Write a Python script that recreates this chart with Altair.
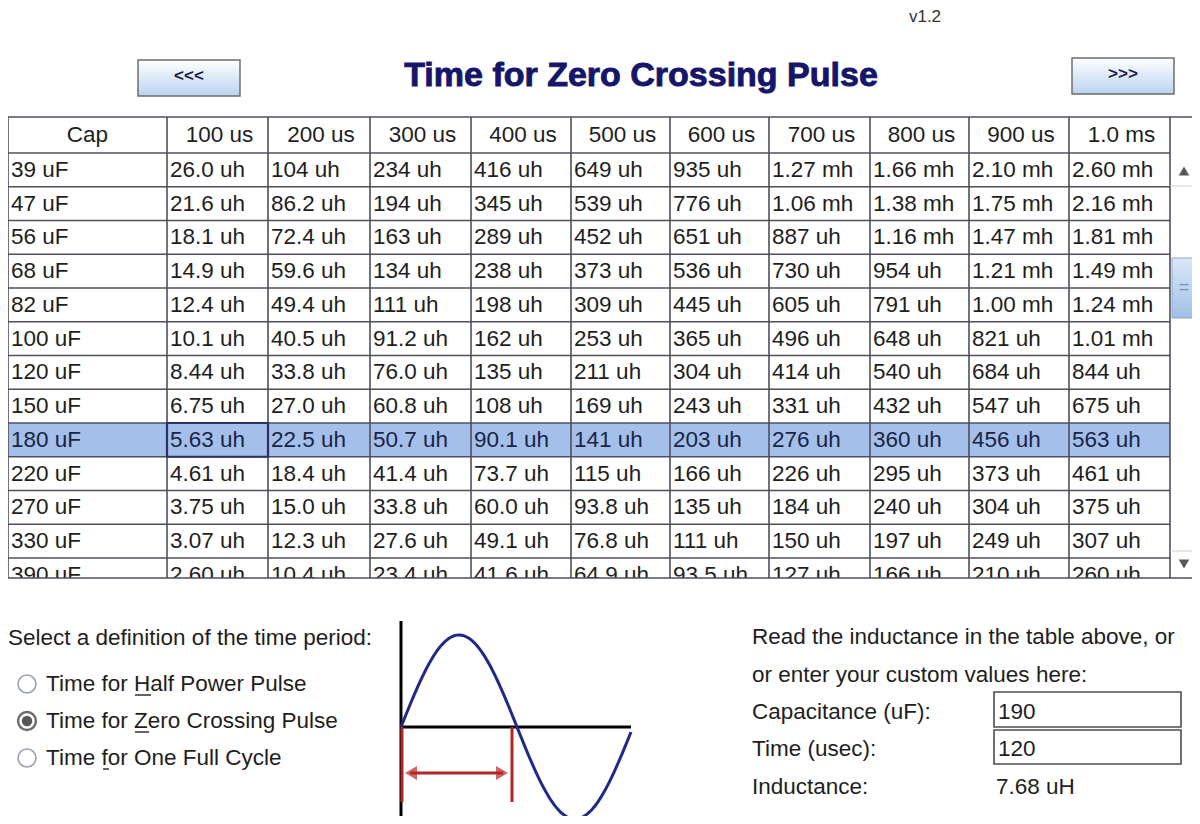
import altair as alt
import pandas as pd
import numpy as np

# ---------------- data ----------------
caps = ["39 uF", "47 uF", "56 uF", "68 uF", "82 uF", "100 uF", "120 uF",
        "150 uF", "180 uF", "220 uF", "270 uF", "330 uF", "390 uF"]
times = ["100 us", "200 us", "300 us", "400 us", "500 us",
         "600 us", "700 us", "800 us", "900 us", "1.0 ms"]
l_100us = ["26.0 uh", "21.6 uh", "18.1 uh", "14.9 uh", "12.4 uh", "10.1 uh", "8.44 uh",
           "6.75 uh", "5.63 uh", "4.61 uh", "3.75 uh", "3.07 uh", "2.60 uh"]
l_200us = ["104 uh", "86.2 uh", "72.4 uh", "59.6 uh", "49.4 uh", "40.5 uh", "33.8 uh",
           "27.0 uh", "22.5 uh", "18.4 uh", "15.0 uh", "12.3 uh", "10.4 uh"]
l_300us = ["234 uh", "194 uh", "163 uh", "134 uh", "111 uh", "91.2 uh", "76.0 uh",
           "60.8 uh", "50.7 uh", "41.4 uh", "33.8 uh", "27.6 uh", "23.4 uh"]
l_400us = ["416 uh", "345 uh", "289 uh", "238 uh", "198 uh", "162 uh", "135 uh",
           "108 uh", "90.1 uh", "73.7 uh", "60.0 uh", "49.1 uh", "41.6 uh"]
l_500us = ["649 uh", "539 uh", "452 uh", "373 uh", "309 uh", "253 uh", "211 uh",
           "169 uh", "141 uh", "115 uh", "93.8 uh", "76.8 uh", "64.9 uh"]
l_600us = ["935 uh", "776 uh", "651 uh", "536 uh", "445 uh", "365 uh", "304 uh",
           "243 uh", "203 uh", "166 uh", "135 uh", "111 uh", "93.5 uh"]
l_700us = ["1.27 mh", "1.06 mh", "887 uh", "730 uh", "605 uh", "496 uh", "414 uh",
           "331 uh", "276 uh", "226 uh", "184 uh", "150 uh", "127 uh"]
l_800us = ["1.66 mh", "1.38 mh", "1.16 mh", "954 uh", "791 uh", "648 uh", "540 uh",
           "432 uh", "360 uh", "295 uh", "240 uh", "197 uh", "166 uh"]
l_900us = ["2.10 mh", "1.75 mh", "1.47 mh", "1.21 mh", "1.00 mh", "821 uh", "684 uh",
           "547 uh", "456 uh", "373 uh", "304 uh", "249 uh", "210 uh"]
l_1ms = ["2.60 mh", "2.16 mh", "1.81 mh", "1.49 mh", "1.24 mh", "1.01 mh", "844 uh",
         "675 uh", "563 uh", "461 uh", "375 uh", "307 uh", "260 uh"]
columns = [l_100us, l_200us, l_300us, l_400us, l_500us,
           l_600us, l_700us, l_800us, l_900us, l_1ms]
selected_row = 8          # 180 uF
focused_col = 1           # first value column

title = "Time for Zero Crossing Pulse"
version = "v1.2"
radio_prompt = "Select a definition of the time period:"
radio_labels = ["Time for Half Power Pulse", "Time for Zero Crossing Pulse", "Time for One Full Cycle"]
radio_selected = 1
right_lines = ["Read the inductance in the table above, or", "or enter your custom values here:"]
field_labels = ["Capacitance (uF):", "Time (usec):", "Inductance:"]
field_values = ["190", "120", "7.68 uH"]

# ---------------- layout (pixel positions of the window) ----------------
W, H = 1184, 808
COL_EDGES = [8, 167, 268, 370, 471, 571, 670, 769, 870, 969, 1069, 1170]
SCROLL_R = 1197
HEAD_TOP, HEAD_BOT, ROW_H, TABLE_BOT = 117, 153, 33.75, 578
FONT = "Liberation Sans, Arial, Helvetica, sans-serif"
GRID = "#4c4f5c"

xs = alt.Scale(domain=[8, 8 + W], nice=False, zero=False)
ys = alt.Scale(domain=[8, 8 + H], nice=False, zero=False, reverse=True)


def X(f="x"):
    return alt.X(f"{f}:Q", scale=xs, axis=None)


def Y(f="y"):
    return alt.Y(f"{f}:Q", scale=ys, axis=None)


def rects(rows, **mark):
    return alt.Chart(pd.DataFrame(rows)).mark_rect(**mark).encode(
        x=X(), x2="x2:Q", y=Y(), y2="y2:Q")


def rules(rows, **mark):
    return alt.Chart(pd.DataFrame(rows)).mark_rule(**mark).encode(
        x=X(), x2="x2:Q", y=Y(), y2="y2:Q")


def texts(rows, **mark):
    base = dict(font=FONT, fontSize=22.5, align="left", baseline="middle", color="#1e1e1e")
    base.update(mark)
    return alt.Chart(pd.DataFrame(rows)).mark_text(**base).encode(x=X(), y=Y(), text="t:N")


def points(rows, **mark):
    return alt.Chart(pd.DataFrame(rows)).mark_point(**mark).encode(x=X(), y=Y())


def grad(top, bottom):
    return alt.LinearGradient(gradient="linear", x1=0, x2=0, y1=0, y2=1,
                              stops=[alt.GradientStop(color=top, offset=0),
                                     alt.GradientStop(color=bottom, offset=1)])


layers = []

# ---- header: version, buttons, title ----
layers.append(texts([{"x": 925, "y": 17, "t": version}], fontSize=17, align="center", color="#333333"))
layers.append(rects([{"x": 138, "x2": 240, "y": 60, "y2": 96},
                     {"x": 1072, "x2": 1174, "y": 58, "y2": 94}],
                    fill=grad("#ffffff", "#b9d3ef"), stroke="#6d6d6d", strokeWidth=1.5))
layers.append(texts([{"x": 189, "y": 76, "t": "<<<"}, {"x": 1123, "y": 74, "t": ">>>"}],
                    fontSize=17, fontWeight="bold", align="center", color="#1b1b50"))
layers.append(texts([{"x": 641, "y": 76, "t": title}], fontSize=34, fontWeight="bold",
                    align="center", color="#15156a", stroke="#15156a", strokeWidth=0.9))

# ---- table ----
n = len(caps)
row_top = [HEAD_BOT + ROW_H * i for i in range(n)]
row_mid = [t + ROW_H / 2 for t in row_top]

layers.append(rects([{"x": COL_EDGES[0], "x2": COL_EDGES[-1], "y": row_top[selected_row],
                      "y2": row_top[selected_row] + ROW_H}], fill="#a3bfea"))

head_rows = [{"x": (COL_EDGES[0] + COL_EDGES[1]) / 2, "y": (HEAD_TOP + HEAD_BOT) / 2, "t": "Cap"}]
for c, t in enumerate(times):
    head_rows.append({"x": (COL_EDGES[c + 1] + COL_EDGES[c + 2]) / 2 + 2, "y": (HEAD_TOP + HEAD_BOT) / 2, "t": t})
layers.append(texts(head_rows, align="center"))

cell_rows = []
for r in range(n):
    color = "#1a2444" if r == selected_row else "#1e1e1e"
    cell_rows.append({"x": COL_EDGES[0] + 3, "y": row_mid[r], "t": caps[r], "c": color})
    for c, col in enumerate(columns):
        cell_rows.append({"x": COL_EDGES[c + 1] + 3, "y": row_mid[r], "t": col[r], "c": color})
layers.append(alt.Chart(pd.DataFrame(cell_rows)).mark_text(
    font=FONT, fontSize=22.5, align="left", baseline="middle").encode(
    x=X(), y=Y(), text="t:N", color=alt.Color("c:N", scale=None)))

# clip partially visible last row
layers.append(rects([{"x": 4, "x2": SCROLL_R + 2, "y": TABLE_BOT, "y2": TABLE_BOT + 16}], fill="white"))

# grid
hl = [{"x": COL_EDGES[0], "x2": COL_EDGES[-1], "y": y, "y2": y}
      for y in [HEAD_BOT] + [t + ROW_H for t in row_top[:-1]]]
hl += [{"x": COL_EDGES[0], "x2": SCROLL_R, "y": y, "y2": y} for y in [HEAD_TOP, TABLE_BOT]]
vl = [{"x": x, "x2": x, "y": HEAD_TOP, "y2": TABLE_BOT} for x in COL_EDGES + [SCROLL_R]]
layers.append(rules(hl + vl, color=GRID, strokeWidth=1.6))

# focused cell border
layers.append(rects([{"x": COL_EDGES[focused_col], "x2": COL_EDGES[focused_col + 1],
                      "y": row_top[selected_row], "y2": row_top[selected_row] + ROW_H}],
                    fill="transparent", stroke="#27335e", strokeWidth=2.2))

# scrollbar
layers.append(rects([{"x": COL_EDGES[-1] + 2, "x2": SCROLL_R - 1, "y": 258, "y2": 318}],
                    fill=grad("#dbe8f7", "#9fc0e7"), stroke="#8aa6c8", strokeWidth=1))
layers.append(texts([{"x": 1184, "y": 288, "t": "="}], fontSize=18, align="center", color="#6f8fb6"))
layers.append(rules([{"x": COL_EDGES[-1], "x2": SCROLL_R, "y": 186, "y2": 186},
                     {"x": COL_EDGES[-1], "x2": SCROLL_R, "y": 551, "y2": 551}],
                    color="#c9cfd8", strokeWidth=1))
layers.append(points([{"x": 1184, "y": 171}], shape="triangle-up", filled=True, color="#111111", size=110))
layers.append(points([{"x": 1184, "y": 564}], shape="triangle-down", filled=True, color="#111111", size=110))

# ---- radio group ----
layers.append(texts([{"x": 8, "y": 638, "t": radio_prompt}]))
radio_y = [684, 721, 758]
layers.append(texts([{"x": 46, "y": y, "t": t} for y, t in zip(radio_y, radio_labels)]))
layers.append(points([{"x": 27, "y": y} for i, y in enumerate(radio_y) if i != radio_selected],
                     shape="circle", filled=True, fill="white", stroke="#6f7c8c", strokeWidth=1.6, size=320))
layers.append(points([{"x": 27, "y": radio_y[radio_selected]}],
                     shape="circle", filled=True, fill="white", stroke="#2e2e2e", strokeWidth=2.4, size=320))
layers.append(points([{"x": 27, "y": radio_y[radio_selected]}],
                     shape="circle", filled=True, color="#111111", size=110))
# mnemonic underlines (H, Z, f)
layers.append(rules([{"x": 135, "x2": 151, "y": 695, "y2": 695},
                     {"x": 135, "x2": 149, "y": 732, "y2": 732},
                     {"x": 103, "x2": 109, "y": 769, "y2": 769}], color="#222222", strokeWidth=1.4))

# ---- sine diagram ----
X0, Y0, HALF, AMP = 401, 727, 116, 92
sx = np.linspace(0, 230, 161)
sine = pd.DataFrame({"x": X0 + sx, "y": Y0 - AMP * np.sin(np.pi * sx / HALF), "o": np.arange(len(sx))})
layers.append(rules([{"x": X0, "x2": X0, "y": 621, "y2": 824},
                     {"x": X0, "x2": 631, "y": Y0, "y2": Y0}], color="#000000", strokeWidth=3))
layers.append(alt.Chart(sine).mark_line(color="#1f2a88", strokeWidth=3).encode(x=X(), y=Y(), order="o:Q"))
red = "#b32626"
layers.append(rules([{"x": X0 + 1, "x2": X0 + 1, "y": Y0, "y2": 802},
                     {"x": 512, "x2": 512, "y": Y0, "y2": 802},
                     {"x": 410, "x2": 503, "y": 773, "y2": 773}], color=red, strokeWidth=3))
layers.append(points([{"x": 411, "y": 773}], shape="triangle-left", filled=True, color=red, size=190))
layers.append(points([{"x": 502, "y": 773}], shape="triangle-right", filled=True, color=red, size=190))

# ---- custom values ----
layers.append(texts([{"x": 752, "y": 637, "t": right_lines[0]}, {"x": 752, "y": 675, "t": right_lines[1]}]))
field_y = [712, 749, 787]
layers.append(texts([{"x": 752, "y": y, "t": t} for y, t in zip(field_y, field_labels)]))
layers.append(rects([{"x": 994, "x2": 1181, "y": 692, "y2": 727},
                     {"x": 994, "x2": 1181, "y": 730, "y2": 764}],
                    fill="white", stroke="#4d4d4d", strokeWidth=1.6))
layers.append(texts([{"x": 998, "y": y, "t": t} for y, t in zip(field_y[:2], field_values[:2])]))
layers.append(texts([{"x": 996, "y": field_y[2], "t": field_values[2]}]))

chart = alt.layer(*layers).properties(
    width=W, height=H, padding=0, background="white",
    autosize=alt.AutoSizeParams(type="none")
).configure_view(stroke=None)

chart.save("out.html", embed_options={"renderer": "svg", "actions": False})
